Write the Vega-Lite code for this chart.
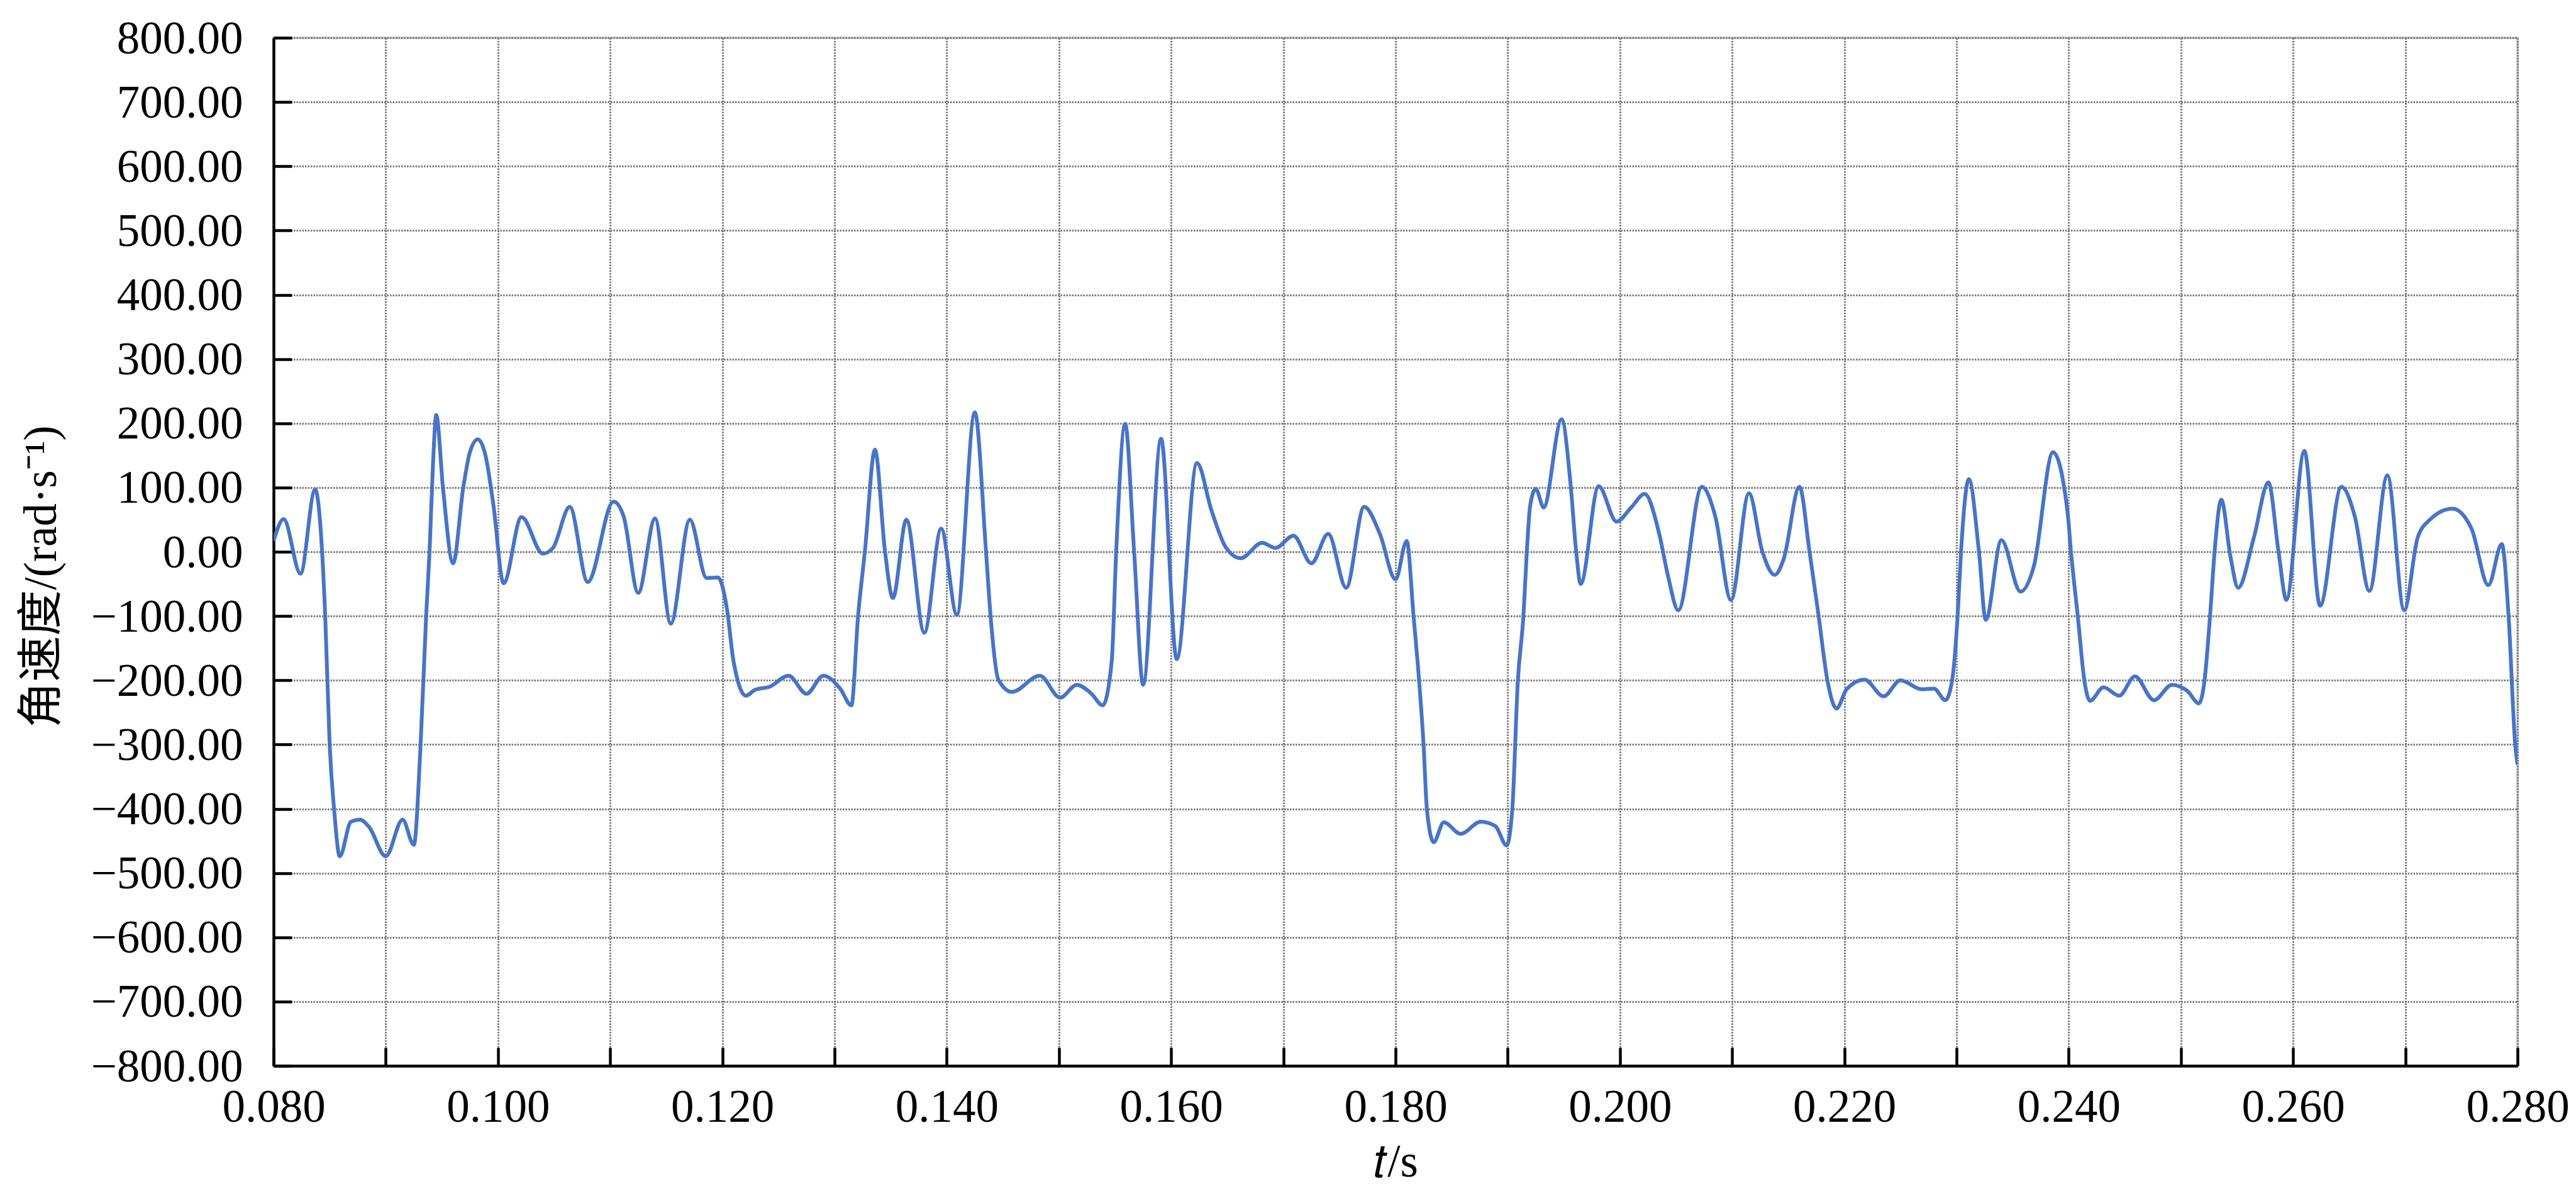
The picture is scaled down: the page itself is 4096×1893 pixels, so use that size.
{
  "$schema": "https://vega.github.io/schema/vega-lite/v6.json",
  "width": 3568,
  "height": 1634,
  "autosize": {"type": "none"},
  "padding": {"left": 435, "top": 60, "right": 93, "bottom": 199},
  "background": "white",
  "config": {
    "view": {"stroke": "#c8c8c8", "strokeWidth": 3.5},
    "font": "Liberation Serif",
    "axis": {
      "labelFont": "Liberation Serif",
      "titleFont": "Liberation Serif, Noto Sans CJK SC",
      "labelFontSize": 73,
      "titleFontSize": 73,
      "labelLimit": 2000,
      "titleLimit": 3000,
      "labelColor": "black",
      "titleColor": "black",
      "titleFontWeight": "normal",
      "domainColor": "black",
      "domainWidth": 4.5,
      "tickColor": "black",
      "tickWidth": 4.5,
      "tickSize": -29,
      "grid": true,
      "gridColor": "#7a7a7a",
      "gridWidth": 3,
      "gridDash": [2.5, 2],
      "labelFlush": false,
      "labelOverlap": false,
      "labelBound": false
    }
  },
  "data": {
    "values": [
      {"t": 0.0800, "w": 17}, {"t": 0.0809, "w": 51}, {"t": 0.0824, "w": -34}, {"t": 0.0837, "w": 97},
      {"t": 0.0846, "w": -99}, {"t": 0.0850, "w": -301}, {"t": 0.0854, "w": -402}, {"t": 0.0859, "w": -474},
      {"t": 0.0869, "w": -420}, {"t": 0.0877, "w": -417}, {"t": 0.0885, "w": -428}, {"t": 0.0900, "w": -474},
      {"t": 0.0915, "w": -417}, {"t": 0.0925, "w": -456}, {"t": 0.0931, "w": -301}, {"t": 0.0936, "w": -99},
      {"t": 0.0939, "w": 0}, {"t": 0.0942, "w": 133}, {"t": 0.0945, "w": 213}, {"t": 0.0951, "w": 99},
      {"t": 0.0960, "w": -18}, {"t": 0.0969, "w": 99}, {"t": 0.0975, "w": 155}, {"t": 0.0982, "w": 175},
      {"t": 0.0989, "w": 149}, {"t": 0.0996, "w": 72}, {"t": 0.1005, "w": -49}, {"t": 0.1021, "w": 54},
      {"t": 0.1040, "w": -3}, {"t": 0.1049, "w": 6}, {"t": 0.1064, "w": 70}, {"t": 0.1080, "w": -47},
      {"t": 0.1103, "w": 78}, {"t": 0.1112, "w": 55}, {"t": 0.1125, "w": -64}, {"t": 0.1140, "w": 52},
      {"t": 0.1154, "w": -112}, {"t": 0.1171, "w": 50}, {"t": 0.1186, "w": -41}, {"t": 0.1196, "w": -40},
      {"t": 0.1204, "w": -88}, {"t": 0.1210, "w": -171}, {"t": 0.1221, "w": -224}, {"t": 0.1229, "w": -215},
      {"t": 0.1242, "w": -210}, {"t": 0.1259, "w": -193}, {"t": 0.1275, "w": -221}, {"t": 0.1290, "w": -193},
      {"t": 0.1305, "w": -213}, {"t": 0.1315, "w": -239}, {"t": 0.1321, "w": -99}, {"t": 0.1327, "w": 0},
      {"t": 0.1336, "w": 159}, {"t": 0.1345, "w": 0}, {"t": 0.1352, "w": -72}, {"t": 0.1364, "w": 50},
      {"t": 0.1380, "w": -126}, {"t": 0.1395, "w": 36}, {"t": 0.1409, "w": -98}, {"t": 0.1425, "w": 217},
      {"t": 0.1435, "w": 0}, {"t": 0.1439, "w": -99}, {"t": 0.1446, "w": -199}, {"t": 0.1458, "w": -218},
      {"t": 0.1483, "w": -193}, {"t": 0.1501, "w": -227}, {"t": 0.1516, "w": -207}, {"t": 0.1529, "w": -221},
      {"t": 0.1539, "w": -239}, {"t": 0.1547, "w": -171}, {"t": 0.1551, "w": 0}, {"t": 0.1559, "w": 199},
      {"t": 0.1567, "w": 0}, {"t": 0.1575, "w": -207}, {"t": 0.1591, "w": 176}, {"t": 0.1605, "w": -167},
      {"t": 0.1623, "w": 138}, {"t": 0.1636, "w": 64}, {"t": 0.1649, "w": 6}, {"t": 0.1662, "w": -10},
      {"t": 0.1681, "w": 14}, {"t": 0.1693, "w": 6}, {"t": 0.1709, "w": 25}, {"t": 0.1725, "w": -18},
      {"t": 0.1740, "w": 28}, {"t": 0.1756, "w": -56}, {"t": 0.1772, "w": 70}, {"t": 0.1786, "w": 28},
      {"t": 0.1800, "w": -43}, {"t": 0.1810, "w": 17}, {"t": 0.1816, "w": -99}, {"t": 0.1821, "w": -201},
      {"t": 0.1825, "w": -301}, {"t": 0.1828, "w": -402}, {"t": 0.1834, "w": -452}, {"t": 0.1843, "w": -421},
      {"t": 0.1858, "w": -439}, {"t": 0.1876, "w": -420}, {"t": 0.1889, "w": -427}, {"t": 0.1899, "w": -457},
      {"t": 0.1904, "w": -402}, {"t": 0.1909, "w": -201}, {"t": 0.1914, "w": -99}, {"t": 0.1917, "w": 0},
      {"t": 0.1920, "w": 72}, {"t": 0.1925, "w": 98}, {"t": 0.1932, "w": 69}, {"t": 0.1948, "w": 206},
      {"t": 0.1956, "w": 105}, {"t": 0.1961, "w": 0}, {"t": 0.1965, "w": -50}, {"t": 0.1981, "w": 102},
      {"t": 0.1997, "w": 47}, {"t": 0.2010, "w": 69}, {"t": 0.2022, "w": 90}, {"t": 0.2035, "w": 28},
      {"t": 0.2043, "w": -39}, {"t": 0.2052, "w": -91}, {"t": 0.2073, "w": 101}, {"t": 0.2085, "w": 55},
      {"t": 0.2099, "w": -75}, {"t": 0.2115, "w": 91}, {"t": 0.2127, "w": 0}, {"t": 0.2138, "w": -36},
      {"t": 0.2146, "w": -11}, {"t": 0.2160, "w": 101}, {"t": 0.2169, "w": 0}, {"t": 0.2177, "w": -99},
      {"t": 0.2185, "w": -201}, {"t": 0.2193, "w": -244}, {"t": 0.2202, "w": -214}, {"t": 0.2218, "w": -199},
      {"t": 0.2235, "w": -225}, {"t": 0.2250, "w": -200}, {"t": 0.2269, "w": -214}, {"t": 0.2280, "w": -213},
      {"t": 0.2290, "w": -231}, {"t": 0.2296, "w": -201}, {"t": 0.2301, "w": -99}, {"t": 0.2304, "w": 0},
      {"t": 0.2311, "w": 113}, {"t": 0.2320, "w": 0}, {"t": 0.2326, "w": -106}, {"t": 0.2340, "w": 18},
      {"t": 0.2357, "w": -62}, {"t": 0.2369, "w": -22}, {"t": 0.2386, "w": 155}, {"t": 0.2399, "w": 61},
      {"t": 0.2402, "w": 0}, {"t": 0.2408, "w": -99}, {"t": 0.2414, "w": -201}, {"t": 0.2419, "w": -232},
      {"t": 0.2431, "w": -211}, {"t": 0.2445, "w": -224}, {"t": 0.2459, "w": -194}, {"t": 0.2476, "w": -231},
      {"t": 0.2492, "w": -207}, {"t": 0.2506, "w": -217}, {"t": 0.2516, "w": -236}, {"t": 0.2521, "w": -201},
      {"t": 0.2526, "w": -99}, {"t": 0.2530, "w": 0}, {"t": 0.2536, "w": 81}, {"t": 0.2544, "w": -6},
      {"t": 0.2551, "w": -56}, {"t": 0.2565, "w": 22}, {"t": 0.2578, "w": 108}, {"t": 0.2587, "w": 0},
      {"t": 0.2594, "w": -75}, {"t": 0.2610, "w": 157}, {"t": 0.2624, "w": -84}, {"t": 0.2643, "w": 101},
      {"t": 0.2655, "w": 55}, {"t": 0.2668, "w": -61}, {"t": 0.2684, "w": 119}, {"t": 0.2699, "w": -91},
      {"t": 0.2711, "w": 22}, {"t": 0.2722, "w": 50}, {"t": 0.2742, "w": 67}, {"t": 0.2759, "w": 36},
      {"t": 0.2774, "w": -52}, {"t": 0.2786, "w": 12}, {"t": 0.2792, "w": -99}, {"t": 0.2798, "w": -301},
      {"t": 0.2800, "w": -331}
    ]
  },
  "mark": {"type": "line", "color": "#4674cc", "strokeWidth": 6, "interpolate": "monotone", "clip": true},
  "encoding": {
    "x": {
      "field": "t",
      "type": "quantitative",
      "scale": {"domain": [0.08, 0.28], "nice": false, "zero": false},
      "axis": {
        "title": "𝑡/s",
        "values": [0.08, 0.09, 0.10, 0.11, 0.12, 0.13, 0.14, 0.15, 0.16, 0.17, 0.18, 0.19, 0.20, 0.21, 0.22, 0.23, 0.24, 0.25, 0.26, 0.27, 0.28],
        "labelExpr": "round(datum.value * 1000) % 20 == 0 ? format(datum.value, '.3f') : ''",
        "labelBaseline": "alphabetic",
        "labelPadding": 117.5,
        "titleBaseline": "alphabetic",
        "titleY": 175
      }
    },
    "y": {
      "field": "w",
      "type": "quantitative",
      "scale": {"domain": [-800, 800], "nice": false, "zero": false},
      "axis": {
        "title": "角速度/(rad·s⁻¹)",
        "values": [-800, -700, -600, -500, -400, -300, -200, -100, 0, 100, 200, 300, 400, 500, 600, 700, 800],
        "format": ".2f",
        "labelBaseline": "alphabetic",
        "labelOffset": 24,
        "labelPadding": 78,
        "titleAngle": -90,
        "titleAlign": "center",
        "titleBaseline": "alphabetic",
        "titleX": -347,
        "titleY": 856
      }
    }
  }
}
